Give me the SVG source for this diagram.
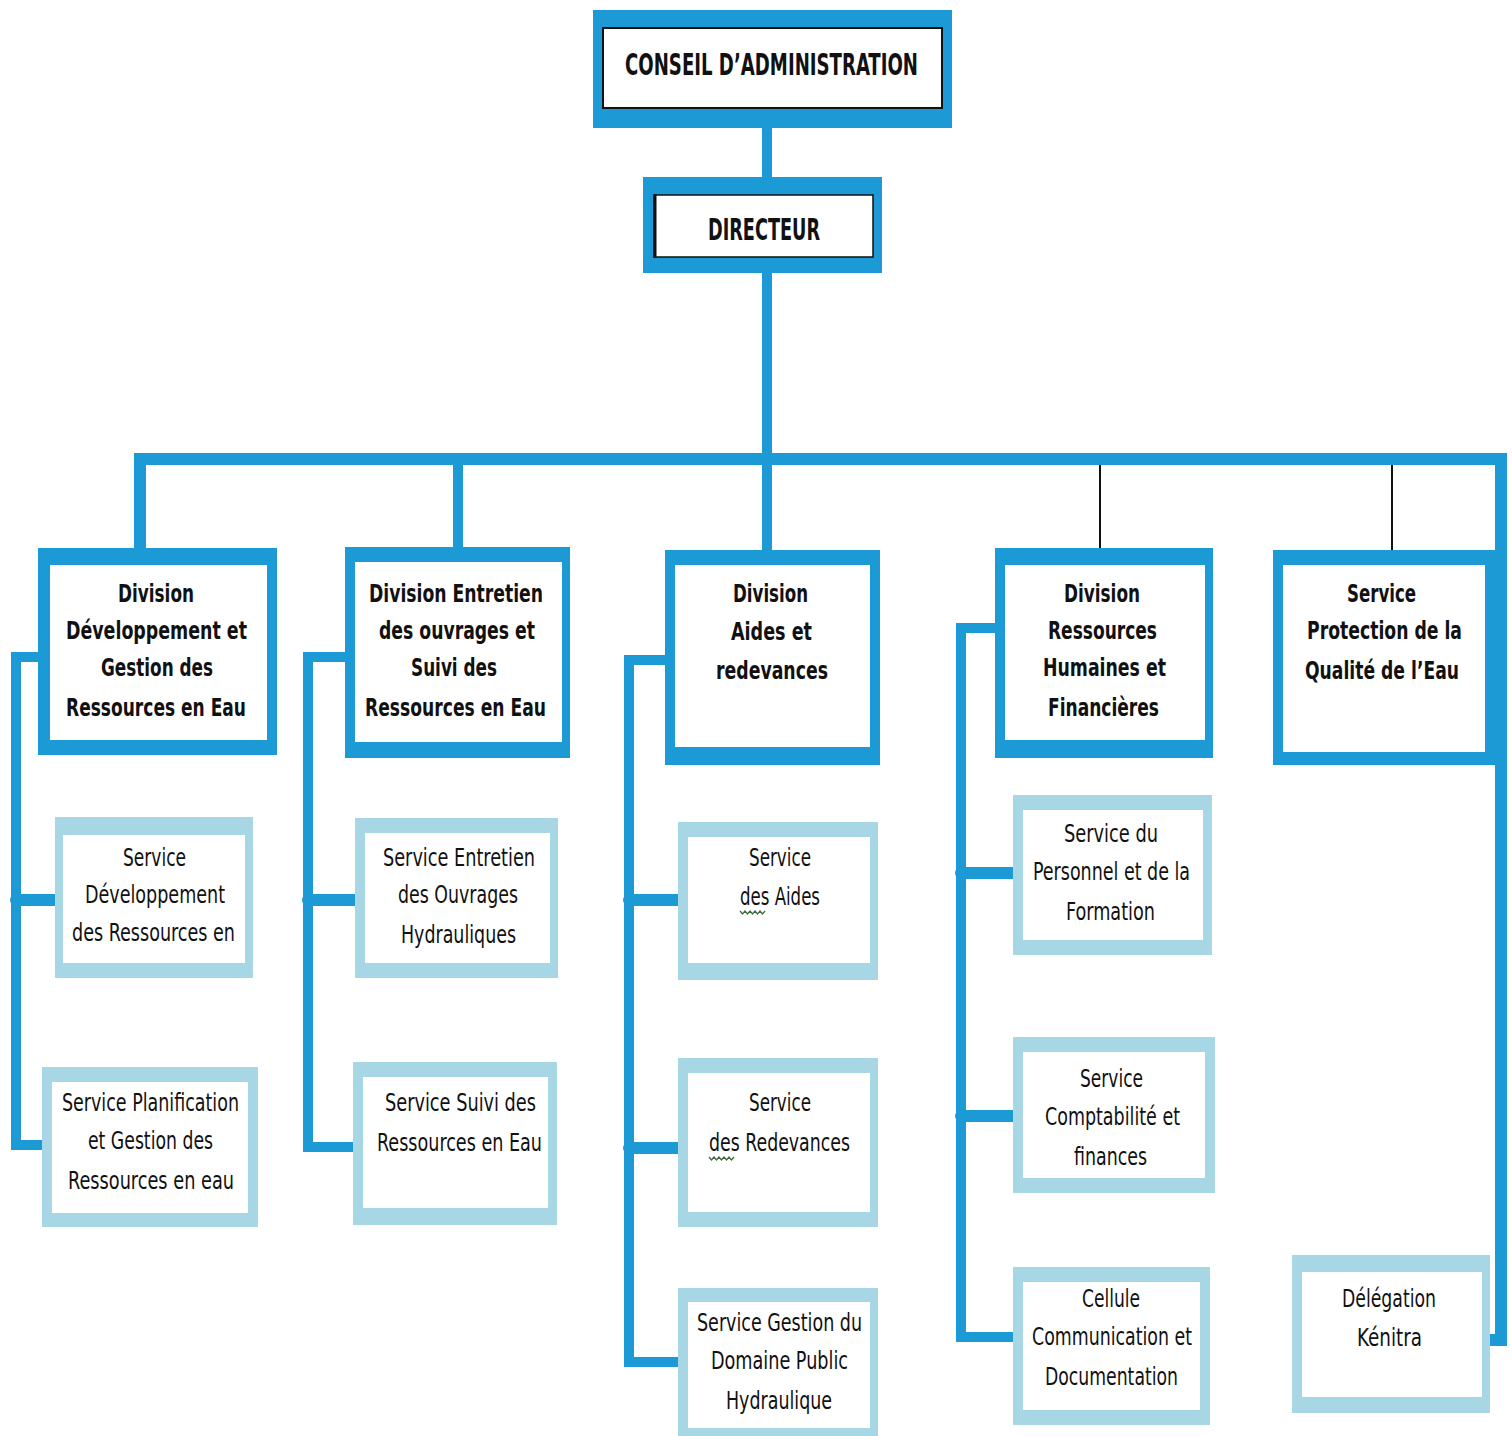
<svg xmlns="http://www.w3.org/2000/svg" width="1512" height="1436" viewBox="0 0 1512 1436">
<style>
.bg{fill:#ffffff}
.fb{fill:#1b9ad6}
.fl{fill:#a7d6e4}
.in{fill:#ffffff}
.c{fill:none;stroke:#1b9ad6;stroke-width:10;stroke-linejoin:miter}
.st{fill:none;stroke:#1b9ad6;stroke-width:12;stroke-linecap:round}
.thin{fill:none;stroke:#111111;stroke-width:2}
text{font-family:"DejaVu Sans Condensed","DejaVu Sans","Liberation Sans",sans-serif;font-stretch:condensed;fill:#111111}
.b{font-weight:bold;font-size:25px}
.r{font-size:24px}
.h{font-weight:bold;font-size:31px}
.sq{fill:none;stroke:#3d6b3d;stroke-width:1.3}
</style>
<rect class="bg" x="0" y="0" width="1512" height="1436"/>

<g id="connectors">
  <path class="c" d="M767 128 V178"/>
  <path class="c" d="M767 273 V550"/>
  <path class="c" style="stroke-width:12" d="M140 550 V459 H1501 V1340 H1490"/>
  <path class="c" d="M458 459 V547"/>
  <path class="thin" d="M1100 465 V548"/>
  <path class="thin" d="M1392 465 V550"/>
  <path class="c" d="M38 657 H16 V1145 H42"/>
  <path class="st" d="M16 900 H55"/>
  <path class="c" d="M345 657 H308 V1147 H353"/>
  <path class="st" d="M308 900 H355"/>
  <path class="c" d="M665 660 H629 V1362 H678"/>
  <path class="st" d="M629 900 H678"/>
  <path class="st" d="M629 1148 H678"/>
  <path class="c" d="M995 628 H961 V1337 H1013"/>
  <path class="st" d="M961 873 H1013"/>
  <path class="st" d="M961 1116 H1013"/>
</g>

<g id="conseil">
  <rect class="fb" x="593" y="10" width="359" height="118"/>
  <rect class="in" x="603" y="28" width="339" height="80" stroke="#111" stroke-width="2"/>
  <text class="h" x="625" y="75" textLength="293" lengthAdjust="spacingAndGlyphs">CONSEIL D’ADMINISTRATION</text>
</g>

<g id="directeur">
  <rect class="fb" x="643" y="177" width="239" height="96"/>
  <rect class="in" x="654" y="195" width="219" height="62" stroke="#111" stroke-width="1.5"/>
  <path d="M655 194 V258" stroke="#111" stroke-width="3"/>
  <text class="h" style="font-size:30px" x="708" y="240" textLength="112" lengthAdjust="spacingAndGlyphs">DIRECTEUR</text>
</g>

<g id="div-developpement">
  <rect class="fb" x="38" y="548" width="239" height="207"/>
  <rect class="in" x="50" y="565" width="217" height="175"/>
  <text class="b" x="118" y="602" textLength="76" lengthAdjust="spacingAndGlyphs">Division</text>
  <text class="b" x="66" y="639" textLength="181" lengthAdjust="spacingAndGlyphs">Développement et</text>
  <text class="b" x="101" y="676" textLength="112" lengthAdjust="spacingAndGlyphs">Gestion des</text>
  <text class="b" x="66" y="716" textLength="180" lengthAdjust="spacingAndGlyphs">Ressources en Eau</text>
</g>

<g id="div-entretien">
  <rect class="fb" x="345" y="547" width="225" height="211"/>
  <rect class="in" x="355" y="562" width="207" height="180"/>
  <text class="b" x="369" y="602" textLength="174" lengthAdjust="spacingAndGlyphs">Division Entretien</text>
  <text class="b" x="379" y="639" textLength="156" lengthAdjust="spacingAndGlyphs">des ouvrages et</text>
  <text class="b" x="411" y="676" textLength="86" lengthAdjust="spacingAndGlyphs">Suivi des</text>
  <text class="b" x="365" y="716" textLength="181" lengthAdjust="spacingAndGlyphs">Ressources en Eau</text>
</g>

<g id="div-aides">
  <rect class="fb" x="665" y="550" width="215" height="215"/>
  <rect class="in" x="675" y="565" width="195" height="182"/>
  <text class="b" x="733" y="602" textLength="75" lengthAdjust="spacingAndGlyphs">Division</text>
  <text class="b" x="731" y="640" textLength="81" lengthAdjust="spacingAndGlyphs">Aides et</text>
  <text class="b" x="716" y="679" textLength="112" lengthAdjust="spacingAndGlyphs">redevances</text>
</g>

<g id="div-rh">
  <rect class="fb" x="995" y="548" width="218" height="210"/>
  <rect class="in" x="1005" y="565" width="200" height="175"/>
  <text class="b" x="1064" y="602" textLength="76" lengthAdjust="spacingAndGlyphs">Division</text>
  <text class="b" x="1048" y="639" textLength="109" lengthAdjust="spacingAndGlyphs">Ressources</text>
  <text class="b" x="1043" y="676" textLength="123" lengthAdjust="spacingAndGlyphs">Humaines et</text>
  <text class="b" x="1048" y="716" textLength="111" lengthAdjust="spacingAndGlyphs">Financières</text>
</g>

<g id="svc-protection">
  <rect class="fb" x="1273" y="550" width="222" height="215"/>
  <rect class="in" x="1283" y="565" width="202" height="187"/>
  <text class="b" x="1347" y="602" textLength="69" lengthAdjust="spacingAndGlyphs">Service</text>
  <text class="b" x="1307" y="639" textLength="155" lengthAdjust="spacingAndGlyphs">Protection de la</text>
  <text class="b" x="1305" y="679" textLength="154" lengthAdjust="spacingAndGlyphs">Qualité de l’Eau</text>
</g>

<g id="svc-dev-ressources">
  <rect class="fl" x="55" y="817" width="198" height="161"/>
  <rect class="in" x="63" y="835" width="182" height="128"/>
  <text class="r" x="123" y="866" textLength="63" lengthAdjust="spacingAndGlyphs">Service</text>
  <text class="r" x="85" y="903" textLength="140" lengthAdjust="spacingAndGlyphs">Développement</text>
  <text class="r" x="72" y="941" textLength="163" lengthAdjust="spacingAndGlyphs">des Ressources en</text>
</g>

<g id="svc-planification">
  <rect class="fl" x="42" y="1067" width="216" height="160"/>
  <rect class="in" x="52" y="1082" width="196" height="131"/>
  <text class="r" x="62" y="1111" textLength="177" lengthAdjust="spacingAndGlyphs">Service Planification</text>
  <text class="r" x="88" y="1149" textLength="125" lengthAdjust="spacingAndGlyphs">et Gestion des</text>
  <text class="r" x="68" y="1189" textLength="166" lengthAdjust="spacingAndGlyphs">Ressources en eau</text>
</g>

<g id="svc-entretien-ouvrages">
  <rect class="fl" x="355" y="818" width="203" height="160"/>
  <rect class="in" x="365" y="833" width="185" height="130"/>
  <text class="r" x="383" y="866" textLength="152" lengthAdjust="spacingAndGlyphs">Service Entretien</text>
  <text class="r" x="398" y="903" textLength="120" lengthAdjust="spacingAndGlyphs">des Ouvrages</text>
  <text class="r" x="401" y="943" textLength="115" lengthAdjust="spacingAndGlyphs">Hydrauliques</text>
</g>

<g id="svc-suivi">
  <rect class="fl" x="353" y="1062" width="204" height="163"/>
  <rect class="in" x="363" y="1077" width="185" height="131"/>
  <text class="r" x="385" y="1111" textLength="151" lengthAdjust="spacingAndGlyphs">Service Suivi des</text>
  <text class="r" x="377" y="1151" textLength="165" lengthAdjust="spacingAndGlyphs">Ressources en Eau</text>
</g>

<g id="svc-aides">
  <rect class="fl" x="678" y="822" width="200" height="158"/>
  <rect class="in" x="688" y="837" width="182" height="126"/>
  <text class="r" x="749" y="866" textLength="62" lengthAdjust="spacingAndGlyphs">Service</text>
  <text class="r" x="740" y="905" textLength="80" lengthAdjust="spacingAndGlyphs">des Aides</text>
  <path class="sq" d="M740 911 l2.5 3 l2.5 -3 l2.5 3 l2.5 -3 l2.5 3 l2.5 -3 l2.5 3 l2.5 -3 l2.5 3 l2.5 -3"/>
</g>

<g id="svc-redevances">
  <rect class="fl" x="678" y="1058" width="200" height="169"/>
  <rect class="in" x="688" y="1073" width="182" height="139"/>
  <text class="r" x="749" y="1111" textLength="62" lengthAdjust="spacingAndGlyphs">Service</text>
  <text class="r" x="709" y="1151" textLength="141" lengthAdjust="spacingAndGlyphs">des Redevances</text>
  <path class="sq" d="M709 1157 l2.5 3 l2.5 -3 l2.5 3 l2.5 -3 l2.5 3 l2.5 -3 l2.5 3 l2.5 -3 l2.5 3 l2.5 -3"/>
</g>

<g id="svc-domaine-public">
  <rect class="fl" x="678" y="1288" width="200" height="152"/>
  <rect class="in" x="688" y="1302" width="182" height="126"/>
  <text class="r" x="697" y="1331" textLength="165" lengthAdjust="spacingAndGlyphs">Service Gestion du</text>
  <text class="r" x="711" y="1369" textLength="137" lengthAdjust="spacingAndGlyphs">Domaine Public</text>
  <text class="r" x="726" y="1409" textLength="106" lengthAdjust="spacingAndGlyphs">Hydraulique</text>
</g>

<g id="svc-personnel">
  <rect class="fl" x="1013" y="795" width="199" height="160"/>
  <rect class="in" x="1023" y="810" width="180" height="130"/>
  <text class="r" x="1064" y="842" textLength="94" lengthAdjust="spacingAndGlyphs">Service du</text>
  <text class="r" x="1033" y="880" textLength="157" lengthAdjust="spacingAndGlyphs">Personnel et de la</text>
  <text class="r" x="1066" y="920" textLength="89" lengthAdjust="spacingAndGlyphs">Formation</text>
</g>

<g id="svc-comptabilite">
  <rect class="fl" x="1013" y="1037" width="202" height="156"/>
  <rect class="in" x="1023" y="1052" width="182" height="126"/>
  <text class="r" x="1080" y="1087" textLength="63" lengthAdjust="spacingAndGlyphs">Service</text>
  <text class="r" x="1045" y="1125" textLength="135" lengthAdjust="spacingAndGlyphs">Comptabilité et</text>
  <text class="r" x="1074" y="1165" textLength="73" lengthAdjust="spacingAndGlyphs">finances</text>
</g>

<g id="cellule-communication">
  <rect class="fl" x="1013" y="1267" width="197" height="158"/>
  <rect class="in" x="1023" y="1282" width="177" height="128"/>
  <text class="r" x="1082" y="1307" textLength="58" lengthAdjust="spacingAndGlyphs">Cellule</text>
  <text class="r" x="1032" y="1345" textLength="160" lengthAdjust="spacingAndGlyphs">Communication et</text>
  <text class="r" x="1045" y="1385" textLength="133" lengthAdjust="spacingAndGlyphs">Documentation</text>
</g>

<g id="delegation-kenitra">
  <rect class="fl" x="1292" y="1255" width="198" height="158"/>
  <rect class="in" x="1302" y="1272" width="180" height="125"/>
  <text class="r" x="1342" y="1307" textLength="94" lengthAdjust="spacingAndGlyphs">Délégation</text>
  <text class="r" x="1357" y="1346" textLength="65" lengthAdjust="spacingAndGlyphs">Kénitra</text>
</g>
</svg>
